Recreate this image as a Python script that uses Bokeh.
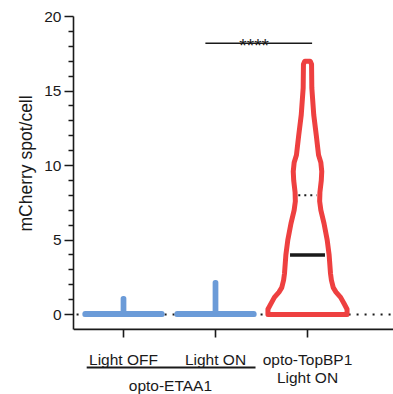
from bokeh.plotting import figure
from bokeh.models import FixedTicker, Range1d, Title
from bokeh.core.properties import value
from bokeh.embed import file_html
from bokeh.resources import INLINE

# ---- data ----
categories = ["Light OFF", "Light ON", "opto-TopBP1\nLight ON"]
positions = [1, 2, 3]
group_label = "opto-ETAA1"
group_members = [0, 1]
y_label = "mCherry spot/cell"

# blue violins (opto-ETAA1): nearly all cells at 0, max values
blue_max = [1.07, 2.15]
blue_base_halfwidth = 0.42

# red violin (opto-TopBP1 Light ON) outline: level -> half width
red_levels = [0.0, 0.35, 0.7, 1.15, 1.5, 1.8, 2.3, 2.75, 4.0, 5.0, 6.1, 7.0,
              7.6, 8.2, 9.0, 9.6, 10.2, 10.7, 12.0, 13.4, 15.2, 16.8, 17.0]
red_halfwidth = [0.43, 0.43, 0.40, 0.36, 0.31, 0.28, 0.26, 0.25, 0.235, 0.214, 0.18, 0.145,
                 0.132, 0.135, 0.150, 0.155, 0.145, 0.12, 0.096, 0.068, 0.047, 0.044, 0.03]
red_median = 4.0
red_q1 = 0.0
red_q3 = 8.0

sig_text = "****"
sig_from, sig_to = 1.89, 3.05
sig_level = 18.2

y_ticks = [0, 5, 10, 15, 20]
y_minor = [v for v in range(1, 20) if v % 5 != 0]

BLUE = "#6b9bd8"
RED = "#ee4040"
INK = "#1a1a1a"
FONT = "Liberation Sans"

# ---- figure ----
px_x = 92.0   # pixels per x unit
px_y = 14.9   # pixels per y unit
W, H = 393, 394
left_border = 73
x_start = 1 - 50 / px_x
x_end = x_start + (W - left_border) / px_x
y_end = 20 + 16 / px_y
y_start = y_end - H / px_y


def ypx(py):
    """page pixel row -> data y"""
    return y_end - py / px_y


p = figure(width=W, height=H, output_backend="svg", toolbar_location=None,
           x_range=Range1d(x_start, x_end), y_range=Range1d(y_start, y_end),
           min_border_left=left_border, min_border_right=0,
           min_border_top=0, min_border_bottom=0, x_axis_location=None)
p.outline_line_color = None
p.grid.visible = False
p.background_fill_color = "white"

ax = p.yaxis[0]
ax.ticker = FixedTicker(ticks=y_ticks, minor_ticks=y_minor)
ax.bounds = (-1, 20)
ax.axis_line_width = 1.6
ax.axis_line_color = INK
ax.major_tick_line_color = INK
ax.minor_tick_line_color = INK
ax.major_tick_line_width = 1.6
ax.minor_tick_line_width = 1.6
ax.major_tick_out = 9
ax.major_tick_in = 0
ax.minor_tick_out = 5
ax.minor_tick_in = 0
ax.major_label_standoff = 3
ax.major_label_text_font = FONT
ax.major_label_text_font_size = "15.5px"
ax.major_label_text_color = INK

# y-axis title, starting 163 px above the bottom of the frame
p.add_layout(Title(text=y_label, align="left", offset=H - 231,
                   text_font=FONT, text_font_size="17.5px",
                   text_font_style="normal", text_color=INK, standoff=11), "left")

# dotted quartile/baseline line at 0
p.segment(x0=[0.49], y0=[red_q1], x1=[x_end], y1=[red_q1],
          line_color=INK, line_width=2, line_dash="2 6")

# blue violins
for i, mx in enumerate(blue_max):
    c = positions[i]
    hw = blue_base_halfwidth
    s = 0.004
    xs = [c - hw, c - hw, c - s, c - s, c + s, c + s, c + hw, c + hw]
    ys = [0, 0.06, 0.08, mx, mx, 0.08, 0.06, 0]
    p.patch(xs, ys, fill_color=BLUE, line_color=BLUE, line_width=5,
            line_join="round")

# red violin
c = positions[2]
rx = [c - w for w in red_halfwidth] + [c + w for w in reversed(red_halfwidth)]
ry = list(red_levels) + list(reversed(red_levels))
p.patch(rx, ry, fill_color="white", line_color=RED, line_width=5, line_join="round")
p.segment(x0=[c - 0.19], y0=[red_median], x1=[c + 0.19], y1=[red_median],
          line_color=INK, line_width=3.5)
p.segment(x0=[c - 0.10], y0=[red_q3], x1=[c + 0.10], y1=[red_q3],
          line_color=INK, line_width=2, line_dash="2 4")

# significance bar
p.segment(x0=[sig_from], y0=[sig_level], x1=[sig_to], y1=[sig_level],
          line_color=INK, line_width=1.6)
p.text(x=[2.42], y=[ypx(45)], text=[sig_text], text_font=value(FONT),
       text_font_size="19px", text_align="center", text_baseline="alphabetic",
       text_color=INK)

# x axis drawn by hand (frame extends below for labels)
p.segment(x0=[x_start], y0=[-1], x1=[x_end], y1=[-1], line_color=INK, line_width=1.8)
p.segment(x0=positions, y0=[-1] * 3, x1=positions, y1=[-1 - 8 / px_y] * 3,
          line_color=INK, line_width=1.6)

line_gap = 18 / px_y
first_base = ypx(358.5)
lx, ly, lt = [], [], []
for pos, cat in zip(positions, categories):
    for k, part in enumerate(cat.split("\n")):
        lx.append(pos)
        ly.append(first_base - k * line_gap)
        lt.append(part)
p.text(x=lx, y=ly, text=lt, text_font=value(FONT), text_font_size="15.5px",
       text_align="center", text_baseline="alphabetic", text_color=INK)

# group bracket
g0 = positions[group_members[0]] - 0.40
g1 = positions[group_members[-1]] + 0.435
p.segment(x0=[g0], y0=[ypx(367)], x1=[g1], y1=[ypx(367)], line_color=INK, line_width=2)
p.text(x=[(positions[group_members[0]] + positions[group_members[-1]]) / 2 + 0.01],
       y=[ypx(385)], text=[group_label], text_font=value(FONT),
       text_font_size="15.5px", text_align="center", text_baseline="alphabetic",
       text_color=INK)

open("out.html", "w").write(file_html(p, INLINE))
